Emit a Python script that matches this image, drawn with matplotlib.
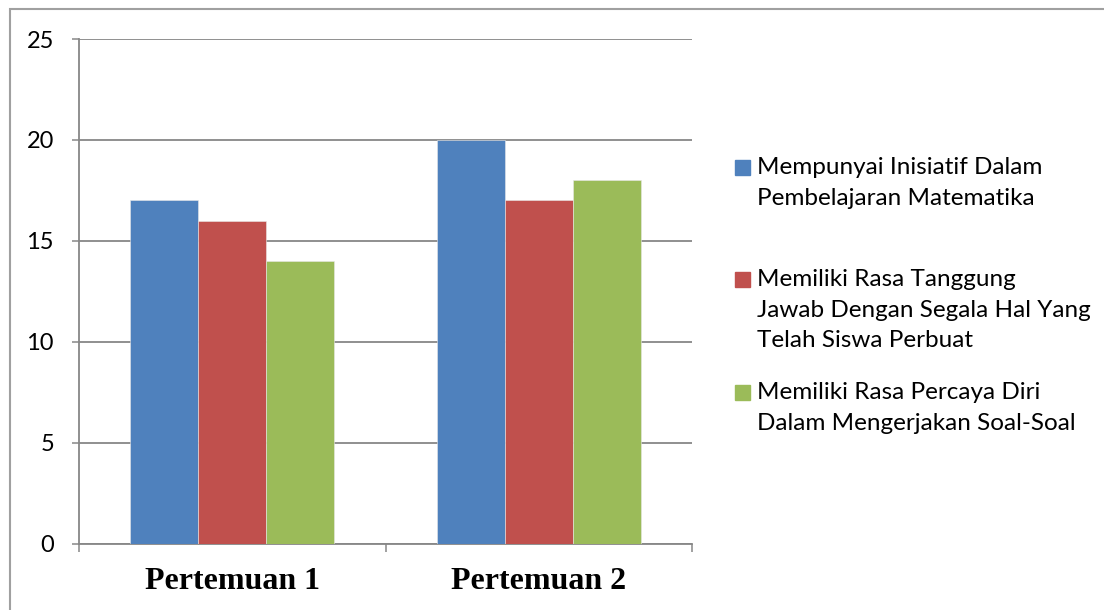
import numpy as np
import matplotlib.pyplot as plt
from matplotlib.patches import Rectangle

# data
pertemuan = ["Pertemuan 1", "Pertemuan 2"]
inisiatif = [17, 20]
tanggung_jawab = [16, 17]
percaya_diri = [14, 18]
seri = [inisiatif, tanggung_jawab, percaya_diri]
nama_seri = ["Mempunyai Inisiatif Dalam\nPembelajaran Matematika",
             "Memiliki Rasa Tanggung\nJawab Dengan Segala Hal Yang\nTelah Siswa Perbuat",
             "Memiliki Rasa Percaya Diri\nDalam Mengerjakan Soal-Soal"]
warna = ["#4F81BD", "#C0504D", "#9BBB59"]
yticks = [0, 5, 10, 15, 20, 25]

abu = "#878787"
fig = plt.figure(figsize=(11.04, 6.1), dpi=100)
# frame around the chart area (right and bottom edges fall outside)
fig.patches.append(Rectangle((10/1104, -0.1), 1.2, 1.1 - 9/610, transform=fig.transFigure,
                             fill=False, edgecolor="#A0A0A0", lw=1.5))

ax = fig.add_axes([79/1104, 1 - 543.5/610, (692 - 79)/1104, (543.5 - 39)/610])
x = np.arange(1, len(pertemuan) + 1)
w = 0.222
for i, (vals, c) in enumerate(zip(seri, warna)):
    ax.bar(x + (i - 1) * w, vals, w, color=c, edgecolor="#E8E8E8", lw=0.4, zorder=3)

ax.set_xlim(0.5, 2.5)
ax.set_ylim(0, 25)
ax.set_yticks(yticks)
ax.set_yticklabels([str(v) for v in yticks], fontsize=17, family="Lato")
ax.grid(axis="y", color=abu, lw=1.3, zorder=0)
ax.tick_params(axis="y", length=5, width=1.1, color=abu, pad=13)

# category dividers as ticks, names as minor labels
ax.set_xticks([0.5, 1.5, 2.5])
ax.set_xticklabels([])
ax.set_xticks(x, minor=True)
ax.set_xticklabels(pertemuan, minor=True, fontsize=23, fontweight="bold",
                   family="Liberation Serif")
ax.tick_params(axis="x", which="major", length=6, width=1.1, color=abu)
ax.tick_params(axis="x", which="minor", length=0, pad=17)

for s in ["top", "right"]:
    ax.spines[s].set_visible(False)
for s in ["left", "bottom"]:
    ax.spines[s].set_color(abu)
    ax.spines[s].set_linewidth(1.3)

# legend: square swatch next to the first line of each entry
atas = [160, 272, 385]
for nama, c, y0 in zip(nama_seri, warna, atas):
    fig.patches.append(Rectangle((735/1104, 1 - (y0 + 15)/610), 15/1104, 15/610,
                                 transform=fig.transFigure, color=c))
    fig.text(757/1104, 1 - (y0 - 3)/610, nama, fontsize=17.5, family="Lato",
             va="top", ha="left", linespacing=1.56)

fig.savefig("out.png", dpi=100)
